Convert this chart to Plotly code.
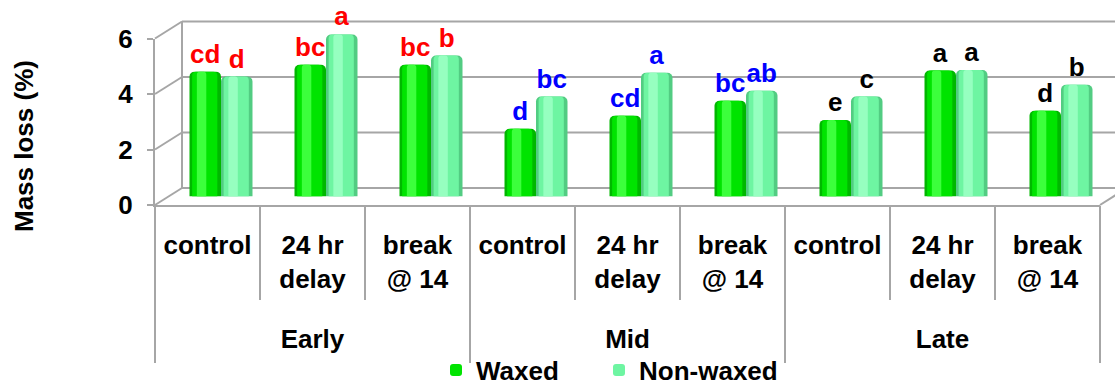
import plotly.graph_objects as go

# ---- data -------------------------------------------------------------
groups = ["Early", "Mid", "Late"]
treatments = ["control", "24 hr<br>delay", "break<br>@ 14"]

waxed = [4.50, 4.75, 4.75, 2.44, 2.91, 3.45, 2.76, 4.54, 3.09]
non_waxed = [4.32, 5.84, 5.08, 3.60, 4.46, 3.81, 3.60, 4.56, 4.03]

letters_waxed = ["cd", "bc", "bc", "d", "cd", "bc", "e", "a", "d"]
letters_non_waxed = ["d", "a", "b", "bc", "a", "ab", "c", "a", "b"]

group_letter_colors = ["#FF0000", "#0000FF", "#000000"]
y_ticks = [0, 2, 4, 6]

# ---- geometry (pixels) -----------------------------------------------
W, H = 1115, 388
X0, X1 = 155, 1100          # front edge of the floor
Y0, Y6 = 205, 38.5          # front value axis: 0 and 6
DX, DY = 27, 17             # depth offset of the back wall
n = len(groups) * len(treatments)
unit_px = (Y0 - Y6) / 6

GRID = "#A6A6A6"
FONT = "Liberation Sans, Arial, sans-serif"
FS = 26


def fx(p):
    return p / W


def fy(p):
    return 1 - p / H


def ydomain(base_px, r0, r1):
    return [fy(base_px - r0 * unit_px), fy(base_px - r1 * unit_px)]


pos = list(range(n))
tick_text = treatments * len(groups)
letter_colors = [c for c in group_letter_colors for _ in treatments]
group_centers = [i * len(treatments) + (len(treatments) - 1) / 2 for i in range(len(groups))]

fig = go.Figure()

# empty traces so the front axes get drawn
for xa in ("x", "x2"):
    fig.add_trace(go.Scatter(x=[None], y=[None], xaxis=xa, yaxis="y",
                             showlegend=False, hoverinfo="skip"))

BAR_W = 0.3
series = [
    # values, name, letters, offset, edge, body, highlight, legend id
    (waxed, "Waxed", letters_waxed, -BAR_W, "#00B800", "#00E400", "#3CFF3C", "legend"),
    (non_waxed, "Non-waxed", letters_non_waxed, 0.0, "#52CC82", "#6EF5A2", "#96FFC0", "legend2"),
]

# cylinder look: darker full-width bar, lighter body band, narrow highlight
for vals, name, letters, off, edge, body, hi, leg in series:
    fig.add_trace(go.Bar(
        x=pos, y=vals, name=name, text=letters, offset=off, width=BAR_W,
        xaxis="x4", yaxis="y4", showlegend=False,
        marker=dict(color=edge, line=dict(width=0), cornerradius=5),
        textposition="outside", cliponaxis=False, constraintext="none",
        textfont=dict(family=FONT, size=FS, color=letter_colors, weight="bold"),
        hoverinfo="x+y",
    ))
for vals, name, letters, off, edge, body, hi, leg in series:
    fig.add_trace(go.Bar(
        x=pos, y=vals, name=name, offset=off + 0.025, width=BAR_W - 0.06,
        xaxis="x4", yaxis="y4", legend=leg, showlegend=True,
        marker=dict(color=body, line=dict(width=0), cornerradius=4),
        hoverinfo="skip",
    ))
    fig.add_trace(go.Bar(
        x=pos, y=vals, name=name, offset=off + 0.07, width=0.09,
        xaxis="x4", yaxis="y4", showlegend=False,
        marker=dict(color=hi, line=dict(width=0), cornerradius=3),
        hoverinfo="skip",
    ))

tickfont = dict(family=FONT, size=FS, color="black", weight="bold")
legend_style = dict(
    orientation="h", y=fy(370), xanchor="left", yanchor="middle",
    font=dict(family=FONT, size=FS, color="black", weight="bold"),
    bgcolor="rgba(0,0,0,0)",
)

fig.update_layout(
    width=W, height=H, autosize=False,
    margin=dict(l=0, r=0, t=0, b=0, pad=0, autoexpand=False),
    paper_bgcolor="white", plot_bgcolor="rgba(0,0,0,0)",
    barmode="overlay",
    # front category axis (treatments)
    xaxis=dict(
        domain=[fx(X0), fx(X1)], range=[-0.5, n - 0.5], anchor="y",
        showline=True, linecolor=GRID, linewidth=2,
        tickmode="array", tickvals=pos, ticktext=tick_text,
        ticks="", showgrid=False, zeroline=False,
        tickfont=tickfont, ticklabelstandoff=16,
        minor=dict(ticks="outside", ticklen=93, tickwidth=2, tickcolor=GRID,
                   tick0=-0.5, dtick=1, showgrid=False),
    ),
    # outer category axis (harvest timing)
    xaxis2=dict(
        overlaying="x", anchor="y", range=[-0.5, n - 0.5],
        tickmode="array", tickvals=group_centers, ticktext=groups,
        ticks="", showgrid=False, zeroline=False, showline=False,
        tickfont=tickfont, ticklabelstandoff=116,
        minor=dict(ticks="outside", ticklen=157, tickwidth=2, tickcolor=GRID,
                   tick0=-0.5, dtick=len(treatments), showgrid=False),
    ),
    # front value axis
    yaxis=dict(
        domain=ydomain(Y0, 0, 6), range=[0, 6], anchor="x",
        showline=True, linecolor=GRID, linewidth=2,
        tickmode="array", tickvals=y_ticks, ticks="outside", ticklen=6,
        tickcolor=GRID, tickwidth=2,
        showgrid=False, zeroline=False, tickfont=tickfont, ticklabelstandoff=9,
    ),
    # mid-depth plane that carries the bars
    xaxis4=dict(domain=[fx(X0 + DX / 2), fx(X1 + DX / 2)], range=[-0.5, n - 0.5],
                anchor="y4", visible=False),
    yaxis4=dict(domain=ydomain(Y0 - DY / 2, 0, 7), range=[0, 7], anchor="x4", visible=False),
    legend=dict(x=fx(436), **legend_style),
    legend2=dict(x=fx(599), **legend_style),
    annotations=[dict(
        text="<b>Mass loss (%)</b>", textangle=-90, xref="paper", yref="paper",
        x=fx(24), y=fy(146), xanchor="center", yanchor="middle", showarrow=False,
        font=dict(family=FONT, size=FS, color="black"),
    )],
)

# back wall gridlines and the oblique edges joining them to the front axis
line = dict(color=GRID, width=2)
shapes = []
for v in y_ticks:
    yf = Y0 - v * unit_px
    shapes.append(dict(type="line", xref="paper", yref="paper", layer="below",
                       x0=fx(X0), y0=fy(yf), x1=fx(X0 + DX), y1=fy(yf - DY), line=line))
    shapes.append(dict(type="line", xref="paper", yref="paper", layer="below",
                       x0=fx(X0 + DX), y0=fy(yf - DY), x1=fx(min(W, X1 + DX)), y1=fy(yf - DY),
                       line=line))
# back-left edge of the wall and right edge of the floor
shapes.append(dict(type="line", xref="paper", yref="paper", layer="below",
                   x0=fx(X0 + DX), y0=fy(Y0 - DY), x1=fx(X0 + DX), y1=fy(Y6 - DY), line=line))
shapes.append(dict(type="line", xref="paper", yref="paper", layer="below",
                   x0=fx(X1), y0=fy(Y0), x1=fx(X1 + DX), y1=fy(Y0 - DY), line=line))
fig.update_layout(shapes=shapes)

fig.write_html("out.html")
